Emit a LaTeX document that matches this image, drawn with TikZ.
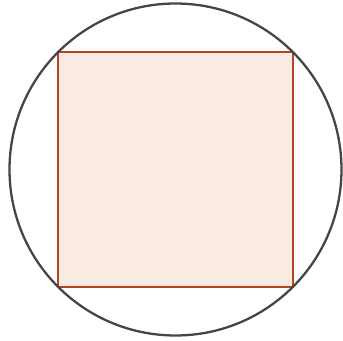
\documentclass[tikz,border=0pt]{standalone}
\usepackage{tikz}
\usetikzlibrary{positioning, calc}
\definecolor{rimgray}{HTML}{454545}
\definecolor{sqedge}{HTML}{B4461E}
\definecolor{sqfill}{HTML}{F9EAE4}

\begin{document}
\begin{tikzpicture}[x=0.02cm, y=-0.02cm]
    \useasboundingbox (0,0) rectangle (343,341);
    \coordinate (c) at (175.5,169.5);
    \coordinate (tl) at ($(c)+(-117.5,-117.5)$);
    \coordinate (br) at ($(c)+(117.5,117.5)$);

    % quadrato inscritto
    \filldraw [fill=sqfill, draw=sqedge, line width=1.6pt] (tl) rectangle (br);
    \draw [rimgray, line width=1.3pt] (c) circle [radius=166];
\end{tikzpicture}
\end{document}
